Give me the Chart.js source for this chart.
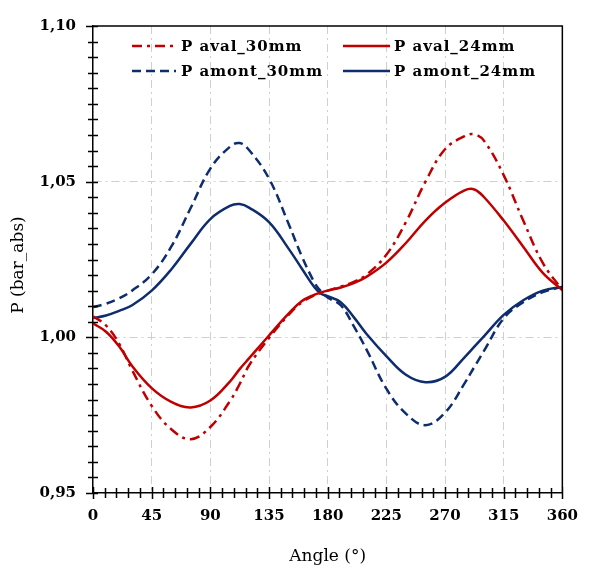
<!DOCTYPE html>
<html>
<head>
<meta charset="utf-8">
<script src="https://cdn.jsdelivr.net/npm/chart.js@4.4.0/dist/chart.umd.min.js"></script>
<style>
  html, body { margin: 0; padding: 0; background: #fff; }
  #wrap { width: 592px; height: 574px; }
</style>
</head>
<body>
<div id="wrap"><canvas id="pChart" width="592" height="574"></canvas></div>
<script>
// Angle (deg) and pressure readings (bar_abs)
const angles = [0, 10, 20, 30, 45, 60, 75, 90, 105, 112.5, 120, 135, 150, 160, 170, 175,
                180, 190, 200, 210, 225, 240, 255, 270, 285, 292.5, 300, 315, 330, 345, 360];

const pAval30 = [1.0068, 1.0038, 0.9980, 0.9895, 0.9780, 0.9705, 0.9673, 0.9712, 0.9795, 0.9850,
                 0.9912, 0.9998, 1.0072, 1.0112, 1.0135, 1.0143, 1.0150, 1.0163, 1.0178, 1.0202,
                 1.0265, 1.0370, 1.0500, 1.0604, 1.0646, 1.0652, 1.0631, 1.0521, 1.0375, 1.0239, 1.0152];
const pAval24 = [1.0045, 1.0018, 0.9971, 0.9908, 0.9837, 0.9793, 0.9775, 0.9797, 0.9858, 0.9898,
                 0.9934, 1.0006, 1.0076, 1.0116, 1.0137, 1.0144, 1.0150, 1.0160, 1.0174, 1.0195,
                 1.0240, 1.0303, 1.0375, 1.0432, 1.0472, 1.0475, 1.0450, 1.0375, 1.0291, 1.0207, 1.0152];
const pAmont30 = [1.0097, 1.0108, 1.0125, 1.0150, 1.0202, 1.0291, 1.0416, 1.0542, 1.0612, 1.0624,
                  1.0600, 1.0510, 1.0365, 1.0262, 1.0175, 1.0147, 1.0128, 1.0103, 1.0036, 0.9959,
                  0.9835, 0.9755, 0.9718, 0.9758, 0.9852, 0.9905, 0.9957, 1.0061, 1.0113, 1.0145, 1.0162];
const pAmont24 = [1.0062, 1.0070, 1.0085, 1.0103, 1.0150, 1.0218, 1.0301, 1.0380, 1.0422, 1.0428,
                  1.0416, 1.0370, 1.0285, 1.0222, 1.0160, 1.0140, 1.0132, 1.0113, 1.0065, 1.0010,
                  0.9940, 0.9880, 0.9856, 0.9873, 0.9936, 0.9970, 1.0004, 1.0072, 1.0119, 1.0150, 1.0162];

const seriesLabels = ['P aval_30mm', 'P aval_24mm', 'P amont_30mm', 'P amont_24mm'];
const xTickLabels = [0, 45, 90, 135, 180, 225, 270, 315, 360];
const yTickLabels = [0.95, 1.00, 1.05, 1.10];

const RED = '#c00000';
const NAVY = '#0e2d6e';
const tickFont = { family: 'DejaVu Serif', size: 15, weight: 'bold' };

const toPoints = vals => vals.map((v, i) => ({ x: angles[i], y: v }));
const isYLabel = v => yTickLabels.some(t => Math.abs(t - v) < 1e-6);

// Legend drawn inside the plot, two columns
const insideLegend = {
    id: 'insideLegend',
    afterDraw(chart) {
        const { ctx, chartArea: a } = chart;
        const cols = [{ l0: 39, l1: 83, tx: 88 }, { l0: 250, l1: 297, tx: 301 }];
        const rows = [20, 45];
        ctx.save();
        ctx.font = 'bold 15px "DejaVu Serif"';
        ctx.letterSpacing = '1px';
        ctx.textBaseline = 'middle';
        chart.data.datasets.forEach((ds, i) => {
            const c = cols[i % 2], yy = a.top + rows[Math.floor(i / 2)];
            ctx.strokeStyle = ds.borderColor;
            ctx.lineWidth = ds.borderWidth;
            ctx.setLineDash(ds.borderDash || []);
            ctx.beginPath();
            ctx.moveTo(a.left + c.l0, yy);
            ctx.lineTo(a.left + c.l1, yy);
            ctx.stroke();
            ctx.setLineDash([]);
            ctx.fillStyle = '#000';
            ctx.fillText(ds.label, a.left + c.tx, yy + 1);
        });
        ctx.restore();
    }
};

// Closed frame, crossing tick marks and the rotated y title
const frameTicks = {
    id: 'frameTicks',
    afterDraw(chart) {
        const { ctx, chartArea: a, scales: { x, y } } = chart;
        ctx.save();
        ctx.strokeStyle = '#000';
        ctx.lineWidth = 1.5;
        ctx.beginPath();
        ctx.moveTo(a.left, a.top);
        ctx.lineTo(a.right, a.top);
        ctx.lineTo(a.right, a.bottom);
        x.ticks.forEach(t => {
            const px = Math.round(x.getPixelForValue(t.value)) + 0.5;
            const big = xTickLabels.includes(t.value);
            ctx.moveTo(px, a.bottom - (big ? 6 : 5));
            ctx.lineTo(px, a.bottom + (big ? 6 : 5));
        });
        y.ticks.forEach(t => {
            const py = Math.round(y.getPixelForValue(t.value)) + 0.5;
            const big = isYLabel(t.value);
            ctx.moveTo(a.left - (big ? 7 : 5), py);
            ctx.lineTo(a.left + 5, py);
        });
        ctx.stroke();

        ctx.translate(19, 265);
        ctx.rotate(-Math.PI / 2);
        ctx.font = '17px "DejaVu Serif"';
        ctx.fillStyle = '#000';
        ctx.textAlign = 'center';
        ctx.textBaseline = 'middle';
        ctx.fillText('P (bar_abs)', 0, 0);
        ctx.restore();
    }
};

const ctx = document.getElementById('pChart').getContext('2d');
new Chart(ctx, {
    type: 'line',
    data: {
        datasets: [
            { label: seriesLabels[0], data: toPoints(pAval30), borderColor: RED, borderDash: [10, 5, 3, 5] },
            { label: seriesLabels[1], data: toPoints(pAval24), borderColor: RED },
            { label: seriesLabels[2], data: toPoints(pAmont30), borderColor: NAVY, borderDash: [9, 5] },
            { label: seriesLabels[3], data: toPoints(pAmont24), borderColor: NAVY }
        ].map(d => Object.assign({
            borderWidth: 2.5, pointRadius: 0, fill: false, tension: 0.4
        }, d))
    },
    options: {
        responsive: false,
        animation: false,
        layout: { padding: { left: 0, right: 19, top: 14, bottom: 0 } },
        plugins: { legend: { display: false }, tooltip: { enabled: false } },
        scales: {
            x: {
                type: 'linear', min: 0, max: 360,
                afterFit: s => { s.height = 81; },
                ticks: {
                    stepSize: 9, autoSkip: false, maxRotation: 0, padding: 14,
                    color: '#000', font: tickFont,
                    callback: v => xTickLabels.includes(v) ? String(v) : ''
                },
                grid: {
                    drawTicks: false, lineWidth: 1,
                    color: c => (c.tick && xTickLabels.includes(c.tick.value) && c.tick.value > 0 && c.tick.value < 360) ? '#cfcfcf' : 'rgba(0,0,0,0)'
                },
                border: { display: true, color: '#000', width: 1.5, dash: [8, 4, 2, 4] },
                title: {
                    display: true, text: 'Angle (°)', color: '#000',
                    font: { family: 'DejaVu Serif', size: 17 }, padding: { top: 0, bottom: 7 }
                }
            },
            y: {
                type: 'linear', min: 0.95, max: 1.10,
                afterFit: s => { s.width = 93; },
                ticks: {
                    stepSize: 0.005, autoSkip: false, padding: 17,
                    color: '#000', font: tickFont,
                    callback: v => isYLabel(v) ? v.toFixed(2).replace('.', ',') : ''
                },
                grid: {
                    drawTicks: false, lineWidth: 1,
                    color: c => (c.tick && (Math.abs(c.tick.value - 1.00) < 1e-6 || Math.abs(c.tick.value - 1.05) < 1e-6)) ? '#cfcfcf' : 'rgba(0,0,0,0)'
                },
                border: { display: true, color: '#000', width: 1.5, dash: [8, 4, 2, 4] }
            }
        }
    },
    plugins: [insideLegend, frameTicks]
});
</script>
</body>
</html>
